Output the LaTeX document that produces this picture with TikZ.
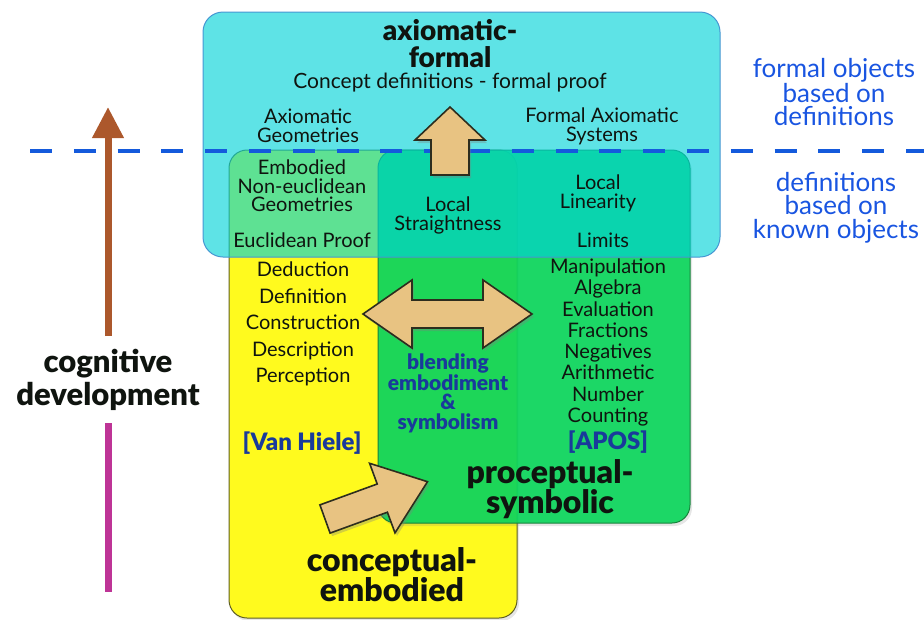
\documentclass[tikz,border=0pt]{standalone}
\usepackage{fontspec}
\setmainfont{Lato}
\newfontfamily\heavyfont{Lato Black}
\usetikzlibrary{shadows,arrows.meta}

\definecolor{skyfill}{RGB}{0,211,216}
\definecolor{skyedge}{RGB}{70,150,210}
\definecolor{leaffill}{RGB}{12,214,92}
\definecolor{leafedge}{RGB}{25,130,60}
\definecolor{lemonfill}{RGB}{255,250,30}
\definecolor{lemonedge}{RGB}{95,95,35}
\definecolor{tanfill}{RGB}{232,195,130}
\definecolor{tanedge}{RGB}{45,45,30}
\definecolor{inkdark}{RGB}{15,20,15}
\definecolor{inknavy}{RGB}{25,58,155}
\definecolor{inkblue}{RGB}{25,85,225}
\definecolor{dashblue}{RGB}{20,90,220}
\definecolor{rust}{RGB}{172,88,44}
\definecolor{plum}{RGB}{190,52,150}

\begin{document}
\begin{tikzpicture}[x=1pt,y=-1pt,
  panel/.style={draw, line width=1pt, rounded corners=18pt, inner sep=0pt},
  blockarrow/.style={fill=tanfill, draw=tanedge, line width=1.6pt, line join=miter,
    drop shadow={opacity=0.35, shadow xshift=2pt, shadow yshift=-3pt}},
  txt/.style={font=\fontsize{20}{19}\selectfont, text=inkdark, align=center, inner sep=0pt},
  heading/.style={font=\heavyfont\fontsize{32}{28}\selectfont, text=inkdark, align=center, inner sep=0pt},
  tag/.style={font=\heavyfont\fontsize{21}{19.5}\selectfont, text=inknavy, align=center, inner sep=0pt},
  sidenote/.style={font=\fontsize{26}{23.5}\selectfont, text=inkblue, align=center, inner sep=0pt},
  devline/.style={line width=7pt},
  dashline/.style={draw=dashblue, line width=3.5pt, dash pattern=on 22pt off 21.8pt}
]
\useasboundingbox (0,0) rectangle (924,619);

% the three worlds
\node[panel, draw=lemonedge, fill=lemonfill, minimum width=288, minimum height=468,
  drop shadow={opacity=0.2, shadow xshift=2pt, shadow yshift=-3pt}] (embodied) at (373,384) {};
\node[panel, draw=leafedge, fill=leaffill, fill opacity=0.92, minimum width=312, minimum height=373,
  drop shadow={opacity=0.2, shadow xshift=2pt, shadow yshift=-3pt}] (symbolic) at (534,336.5) {};
\node[panel, draw=skyedge, fill=skyfill, fill opacity=0.63, rounded corners=20pt,
  minimum width=517, minimum height=245] (formal) at (461.5,134.5) {};

% boundary between the two kinds of definition
\coordinate (dashL) at (30,151);
\coordinate (dashR) at (924,151);
\draw[dashline] (dashL) -- (dashR);

% block arrows
\path[blockarrow] (450,107) -- (485,140) -- (469,140) -- (469,175) -- (431,175)
  -- (431,140) -- (415,140) -- cycle;
\path[blockarrow] (363,314) -- (412,280) -- (412,300) -- (483,300) -- (483,280)
  -- (532,314) -- (483,348) -- (483,328) -- (412,328) -- (412,348) -- cycle;
\path[blockarrow] (319.9,504.9) -- (377.2,484.0) -- (369.6,463.3) -- (427.5,481.7)
  -- (395.0,532.9) -- (387.4,512.2) -- (330.1,533.1) -- cycle;

% cognitive development axis
\node[heading, font=\heavyfont\fontsize{31}{33}\selectfont] (cog) at (108,380) {cognitive\\development};
\coordinate (devtop) at (108,107);
\coordinate (devfoot) at (108,336);
\coordinate (pinktop) at (108,423);
\coordinate (pinkfoot) at (108,592);
\draw[devline, draw=rust, -{Triangle[length=31pt,width=30pt]}] (devfoot) -- (devtop);
\draw[devline, draw=plum] (pinktop) -- (pinkfoot);

% axiomatic-formal world
\node[heading, font=\heavyfont\fontsize{28}{27}\selectfont] (formaltitle) at (450,43.5) {axiomatic-\\formal};
\node[txt, font=\fontsize{21}{20}\selectfont] (concept) at (450,82.5) {Concept definitions - formal proof};
\node[txt] (axgeo) at (308,126) {Axiomatic\\Geometries};
\node[txt] (axsys) at (602,126) {Formal Axiomatic\\Systems};
\node[txt, font=\fontsize{20}{18.5}\selectfont] (noneuc) at (302,186) {Embodied\\Non-euclidean\\Geometries};
\node[txt] (eucproof) at (302,240) {Euclidean Proof};
\node[txt] (straight) at (448,215.5) {Local\\Straightness};
\node[txt] (linear) at (598,193.5) {Local\\Linearity};
\node[txt] (limits) at (603,240) {Limits};

% conceptual-embodied world
\node[txt, font=\fontsize{20}{26.5}\selectfont] (vhlevels) at (303,324) {Deduction\\Definition\\Construction\\Description\\Perception};
\node[tag, font=\heavyfont\fontsize{24}{19}\selectfont] (vanhiele) at (302,443) {[Van Hiele]};
\node[heading, font=\heavyfont\fontsize{32}{30}\selectfont] (embtitle) at (392,575) {conceptual-\\embodied};

% blend of the two
\node[tag] (blend) at (448,393.5) {blending\\embodiment\\\&\\symbolism};

% proceptual-symbolic world
\node[txt, font=\fontsize{20}{21.3}\selectfont] (procs) at (608,342.5) {Manipulation\\Algebra\\Evaluation\\Fractions\\Negatives\\Arithmetic\\Number\\Counting};
\node[tag, font=\heavyfont\fontsize{24}{19}\selectfont] (apos) at (608,442) {[APOS]};
\node[heading] (symtitle) at (550,489) {proceptual-\\symbolic};

% side notes
\node[sidenote] (above) at (834,92) {formal objects\\based on\\definitions};
\node[sidenote] (below) at (836,207.5) {definitions\\based on\\known objects};
\end{tikzpicture}
\end{document}
